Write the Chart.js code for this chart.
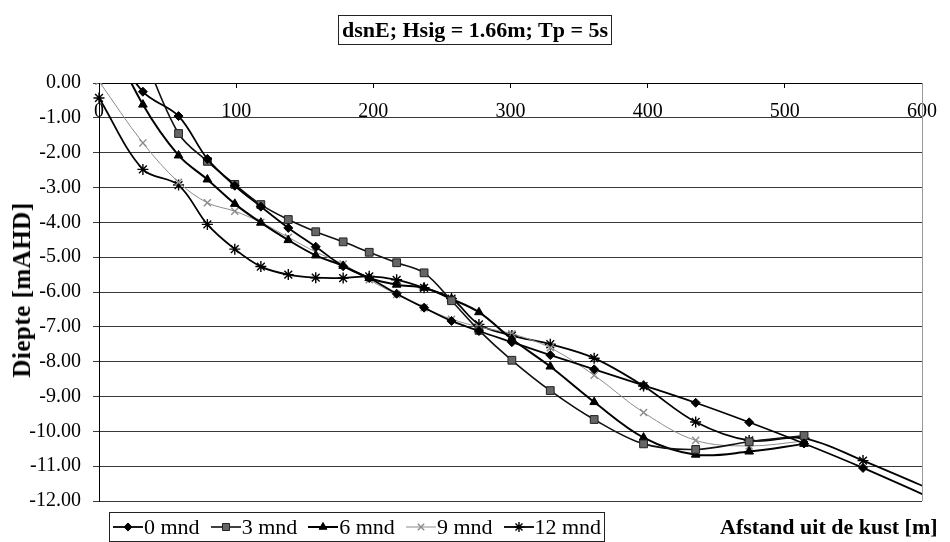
<!DOCTYPE html>
<html>
<head>
<meta charset="utf-8">
<script src="https://cdn.jsdelivr.net/npm/chart.js@4.4.0/dist/chart.umd.min.js"></script>
<style>
  body { margin: 0; background: #fff; }
  #wrap { position: relative; width: 950px; height: 542px; font-family: "Liberation Serif", serif; color: #000; overflow: hidden; }
  #chart { position: absolute; left: 0; top: 0; }
  .title { position: absolute; left: 338px; top: 15px; width: 272px; height: 28px; border: 1px solid #222;
           font-weight: bold; font-size: 22px; line-height: 28px; text-align: center; white-space: nowrap; }
  .ytitle { position: absolute; left: 22px; top: 290px; transform: translate(-50%, -50%) rotate(-90deg);
            font-weight: bold; font-size: 25px; letter-spacing: 0.5px; white-space: nowrap; }
  .xtitle { position: absolute; left: 720px; top: 514px; font-weight: bold; font-size: 22px; white-space: nowrap; }
  .legend { position: absolute; left: 109px; top: 512px; height: 28px; border: 1px solid #222; display: flex;
            align-items: center; padding: 0 3px; font-size: 22px; white-space: nowrap; }
  .legend .item { display: flex; align-items: center; margin-right: 11px; }
  .legend .item:last-child { margin-right: 0; }
  .legend canvas { margin-right: 1px; }
</style>
</head>
<body>
<div id="wrap">
  <canvas id="chart" width="950" height="542"></canvas>
  <div class="title">dsnE; Hsig = 1.66m; Tp = 5s</div>
  <div class="ytitle">Diepte [mAHD]</div>
  <div class="xtitle">Afstand uit de kust [m]</div>
  <div class="legend" id="legend"></div>
</div>
<script>
// distance from the coast [m]; the last entry lies past the axis end and only gets clipped
const distances = [0, 32, 58, 79, 99, 118, 138, 158, 178, 197, 217, 237, 257, 277, 301, 329, 361, 397, 435, 474, 514, 557, 640];

// depth [mAHD] per survey, null = no measurement
const depth0  = [1.6, -0.25, -0.95, -2.18, -2.95, -3.55, -4.16, -4.7, -5.26, -5.6, -6.05, -6.45, -6.83, -7.12, -7.44, -7.81, -8.22, -8.68, -9.18, -9.74, -10.35, -11.05, -12.5];
const depth3  = [null, 0.85, -1.45, -2.25, -2.91, -3.49, -3.92, -4.27, -4.56, -4.86, -5.16, -5.45, -6.25, -7.1, -7.96, -8.83, -9.66, -10.36, -10.52, -10.3, -10.12, null, null];
const depth6  = [1.9, -0.62, -2.08, -2.77, -3.47, -4.01, -4.51, -4.95, -5.25, -5.6, -5.79, -5.88, -6.2, -6.58, -7.35, -8.14, -9.16, -10.18, -10.67, -10.58, -10.36, null, null];
const depth9  = [0.05, -1.72, -2.85, -3.44, -3.68, -4.0, -4.43, -4.85, -5.2, -5.65, -6.07, -6.45, -6.78, -7.0, -7.2, -7.6, -8.39, -9.46, -10.26, -10.42, -10.28, null, null];
const depth12 = [-0.43, -2.48, -2.93, -4.06, -4.77, -5.27, -5.5, -5.59, -5.6, -5.55, -5.65, -5.88, -6.19, -6.93, -7.25, -7.5, -7.9, -8.7, -9.73, -10.26, -10.2, -10.84, -12.24];

const seriesLabels = ['0 mnd', '3 mnd', '6 mnd', '9 mnd', '12 mnd'];
const seriesValues = [depth0, depth3, depth6, depth9, depth12];

// look of each survey line
const seriesStyles = [
  { point: 'rectRot',  radius: 4.5, line: '#000', fill: '#000',    stroke: '#000', width: 1.8 },
  { point: 'rect',     radius: 5.5, line: '#111', fill: '#666',    stroke: '#222', width: 1.6 },
  { point: 'triangle', radius: 5,   line: '#000', fill: '#000',    stroke: '#000', width: 2 },
  { point: 'crossRot', radius: 5,   line: '#8c8c8c', fill: '#8c8c8c', stroke: '#8c8c8c', width: 1 },
  { point: 'star',     radius: 5.5, line: '#000', fill: '#000',    stroke: '#000', width: 1.8 }
];

const serif = 'Liberation Serif';

function toPoints(values) {
  const pts = [];
  values.forEach((v, i) => { if (v !== null) pts.push({ x: distances[i], y: v }); });
  return pts;
}

const datasets = seriesLabels.map((label, i) => {
  const s = seriesStyles[i];
  return {
    label: label,
    data: toPoints(seriesValues[i]),
    showLine: true,
    tension: 0.35,
    borderColor: s.line,
    borderWidth: s.width,
    pointStyle: s.point,
    pointRadius: s.radius,
    pointBackgroundColor: s.fill,
    pointBorderColor: s.stroke,
    pointBorderWidth: s.point === 'star' || s.point === 'crossRot' ? 1.4 : 1,
    clip: { left: 8, top: 0, right: 0, bottom: 0 }
  };
});

// thin grey frame on the right side of the plot area
const plotFrame = {
  id: 'plotFrame',
  beforeDatasetsDraw(chart) {
    const { ctx, chartArea } = chart;
    ctx.save();
    ctx.strokeStyle = '#999';
    ctx.lineWidth = 1;
    ctx.beginPath();
    ctx.moveTo(chartArea.right + 0.5, chartArea.top);
    ctx.lineTo(chartArea.right + 0.5, chartArea.bottom);
    ctx.stroke();
    ctx.restore();
  }
};

new Chart(document.getElementById('chart'), {
  type: 'scatter',
  data: { datasets: datasets },
  options: {
    responsive: false,
    animation: false,
    layout: { padding: { left: 0, top: 83, right: 16, bottom: 41 } },
    plugins: { legend: { display: false }, title: { display: false }, tooltip: { enabled: false } },
    scales: {
      x: {
        type: 'linear',
        min: 0,
        max: 600,
        position: { y: 0 },
        ticks: { stepSize: 100, padding: 13, color: '#000', font: { family: serif, size: 20 } },
        grid: { drawOnChartArea: false, tickLength: 4, color: '#000' },
        border: { color: '#000', width: 1 }
      },
      y: {
        min: -12,
        max: 0,
        afterFit(scale) { scale.width = 99; },
        ticks: { stepSize: 1, padding: 12, color: '#000', font: { family: serif, size: 20 },
                 callback: v => v.toFixed(2) },
        grid: { color: '#3a3a3a', lineWidth: 1, tickLength: 6 },
        border: { color: '#000', width: 1 }
      }
    }
  },
  plugins: [plotFrame]
});

// legend: line sample with marker, then the label
const legendEl = document.getElementById('legend');
seriesLabels.forEach((label, i) => {
  const s = seriesStyles[i];
  const item = document.createElement('div');
  item.className = 'item';
  const c = document.createElement('canvas');
  c.width = 30; c.height = 16;
  const ctx = c.getContext('2d');
  ctx.strokeStyle = s.line;
  ctx.lineWidth = s.width;
  ctx.beginPath(); ctx.moveTo(0, 8); ctx.lineTo(30, 8); ctx.stroke();
  ctx.fillStyle = s.fill;
  ctx.strokeStyle = s.stroke;
  ctx.lineWidth = s.point === 'star' || s.point === 'crossRot' ? 1.4 : 1;
  Chart.helpers.drawPoint(ctx, { pointStyle: s.point, radius: s.radius * 0.9, rotation: 0, borderWidth: ctx.lineWidth }, 15, 8);
  const t = document.createElement('span');
  t.textContent = label;
  item.appendChild(c);
  item.appendChild(t);
  legendEl.appendChild(item);
});
</script>
</body>
</html>
